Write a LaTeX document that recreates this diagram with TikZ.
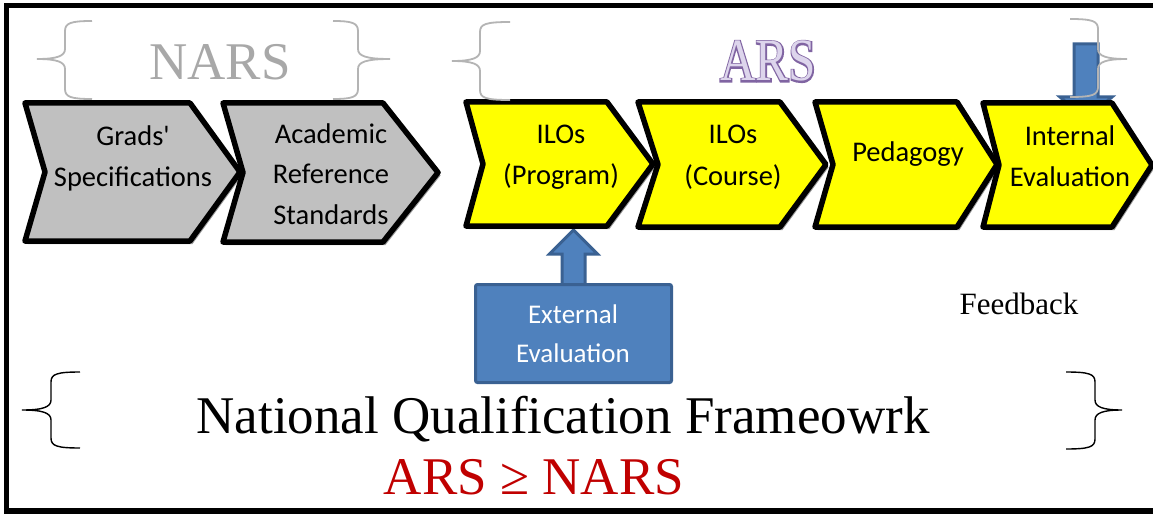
\documentclass[tikz,border=0pt]{standalone}
\usepackage{fontspec}
\usepackage{graphicx}
\setmainfont{Liberation Serif}
\newfontfamily\calfont{Carlito}
\newfontfamily\arsbold[FakeBold=5]{Liberation Serif}
\usetikzlibrary{calc}
\definecolor{chevgray}{HTML}{C0C0C0}
\definecolor{chevyel}{HTML}{FFFF00}
\definecolor{blueA}{HTML}{4F81BD}
\definecolor{blueB}{HTML}{3A6192}
\definecolor{braceg}{HTML}{B4B4B4}
\definecolor{narsg}{HTML}{A8A8A8}
\definecolor{arsline}{HTML}{8064A2}
\definecolor{arsfill}{HTML}{DDD5EC}
\definecolor{redtxt}{HTML}{C00000}
\pgfdeclarelayer{bg}
\pgfdeclarelayer{back}
\pgfdeclarelayer{chev}
\pgfsetlayers{bg,back,chev,main}
% chevron outline: node, tip depth, notch depth, dx, dy
\newcommand\chevp[5]{($(#1.north west)+(#4,#5)$) -- ($(#1.north east)+(-#2+#4,#5)$) -- ($(#1.east)+(#4,#5)$) -- ($(#1.south east)+(-#2+#4,#5)$) -- ($(#1.south west)+(#4,#5)$) -- ($(#1.west)+(#3+#4,#5)$) -- cycle}
% left brace: xtick xvert xarm ytop ymid ybot
\newcommand\bracel[6]{(#3,#4) .. controls (#2+6,#4) and (#2,#4+2) .. (#2,#4+10) -- (#2,#5-10) .. controls (#2,#5-3) and (#2-8,#5) .. (#1,#5) .. controls (#2-8,#5) and (#2,#5+3) .. (#2,#5+10) -- (#2,#6-10) .. controls (#2,#6-2) and (#2+6,#6) .. (#3,#6)}
% right brace: xarm xvert xtick ytop ymid ybot
\newcommand\bracer[6]{(#1,#4) .. controls (#2-6,#4) and (#2,#4+2) .. (#2,#4+10) -- (#2,#5-10) .. controls (#2,#5-3) and (#2+8,#5) .. (#3,#5) .. controls (#2+8,#5) and (#2,#5+3) .. (#2,#5+10) -- (#2,#6-10) .. controls (#2,#6-2) and (#2-6,#6) .. (#1,#6)}
\tikzset{
  chevbox/.style={inner sep=0pt, outer sep=0pt, draw=none},
  chevline/.style={draw=black, line width=5.5pt, line join=round},
  chevshadow/.style={fill=black, opacity=.4},
  sanstxt/.style={font=\calfont\fontsize{28.5}{34}\selectfont, anchor=base, inner sep=0pt},
  exttxt/.style={font=\calfont\fontsize{27}{32}\selectfont, anchor=base, inner sep=0pt, text=white},
  bracegray/.style={draw=braceg, line width=1.8pt},
  braceblk/.style={draw=black, line width=1.4pt},
  bluearrow/.style={fill=blueA, draw=blueB, line width=3pt, line join=miter},
  sertxt/.style={anchor=base, inner sep=0pt},
}
\begin{document}
\begin{tikzpicture}[x=1pt, y=-1pt]
\useasboundingbox (0,0) rectangle (1153,516);
\begin{pgfonlayer}{bg}
  \fill[white] (0,0) rectangle (1153,516);
\end{pgfonlayer}
% frame
\draw[line width=5.5pt] (1160,5.5) -- (6.5,5.5) -- (6.5,511) -- (1160,511);

% chevron placeholders
\node[chevbox, minimum width=215pt, minimum height=138pt] (c1) at (132.5,172) {};
\node[chevbox, minimum width=215pt, minimum height=139pt] (c2) at (330.5,172.5) {};
\node[chevbox, minimum width=187pt, minimum height=124pt] (c3) at (559.5,164) {};
\node[chevbox, minimum width=188pt, minimum height=125pt] (c4) at (732,164.5) {};
\node[chevbox, minimum width=182pt, minimum height=125pt] (c5) at (906,164.5) {};
\node[chevbox, minimum width=169pt, minimum height=124pt] (c6) at (1067.5,165) {};

\begin{pgfonlayer}{chev}
  \fill[chevshadow] \chevp{c1}{50}{20}{2.5}{3};
  \fill[chevshadow] \chevp{c2}{55}{20}{2.5}{3};
  \fill[chevshadow] \chevp{c3}{46}{17}{2.5}{3};
  \fill[chevshadow] \chevp{c4}{46}{20}{2.5}{3};
  \fill[chevshadow] \chevp{c5}{40}{18}{2.5}{3};
  \fill[chevshadow] \chevp{c6}{40}{16}{2.5}{3};
  \filldraw[chevline, fill=chevgray] \chevp{c1}{50}{20}{0}{0};
  \filldraw[chevline, fill=chevgray] \chevp{c2}{55}{20}{0}{0};
  \filldraw[chevline, fill=chevyel] \chevp{c3}{46}{17}{0}{0};
  \filldraw[chevline, fill=chevyel] \chevp{c4}{46}{20}{0}{0};
  \filldraw[chevline, fill=chevyel] \chevp{c5}{40}{18}{0}{0};
  \filldraw[chevline, fill=chevyel] \chevp{c6}{40}{16}{0}{0};
\end{pgfonlayer}

% chevron texts
\node[sanstxt] (g1) at (133,145) {Grads'};
\node[sanstxt] (g2) at (133,186) {Specifications};
\node[sanstxt] (a1) at (331,143) {Academic};
\node[sanstxt] (a2) at (331,183.5) {Reference};
\node[sanstxt] (a3) at (331,224) {Standards};
\node[sanstxt] (p1) at (561,143) {ILOs};
\node[sanstxt] (p2) at (561,184) {(Program)};
\node[sanstxt] (k1) at (733,143) {ILOs};
\node[sanstxt] (k2) at (733,185) {(Course)};
\node[sanstxt] (pe) at (908,161) {Pedagogy};
\node[sanstxt] (i1) at (1070,145) {Internal};
\node[sanstxt] (i2) at (1070,186) {Evaluation};

% external evaluation box
\node[draw=blueB, fill=blueA, line width=3pt, rounded corners=2pt, inner sep=0pt,
      minimum width=196pt, minimum height=98pt] (ext) at (573.5,333.5) {};
\node[exttxt] (e1) at (573,323) {External};
\node[exttxt] (e2) at (573,362) {Evaluation};

% arrows
\coordinate (ub) at (ext.north);
\coordinate (ut) at ($(ub |- c3.south)+(0,4)$);
\coordinate (dt) at (1086,44);
\coordinate (dh) at (dt |- c6.north);
\begin{pgfonlayer}{back}
  % up arrow: External Evaluation -> ILOs (Program)
  \filldraw[bluearrow] ($(ub)+(-11.5,2)$) -- ($(ut)+(-11.5,24)$) -- ($(ut)+(-24,24)$) -- (ut)
     -- ($(ut)+(24,24)$) -- ($(ut)+(11.5,24)$) -- ($(ub)+(11.5,2)$) -- cycle;
  % down arrow into Internal Evaluation
  \filldraw[bluearrow] ($(dt)+(-12,0)$) -- ($(dt)+(12,0)$) -- ($(dh)+(12,-6)$) -- ($(dh)+(26,-6)$)
     -- ($(dh)+(0,16)$) -- ($(dh)+(-26,-6)$) -- ($(dh)+(-12,-6)$) -- cycle;
\end{pgfonlayer}

% braces
\draw[bracegray] \bracel{37}{65}{92}{21}{59}{99};
\draw[bracegray] \bracer{333}{358}{390}{21}{59}{99};
\draw[bracegray] \bracel{452}{480}{510}{22}{61}{100};
\draw[bracegray] \bracer{1070}{1098}{1127}{19}{59}{97};
\draw[braceblk] \bracel{22}{51}{80}{372}{410}{448};
\draw[braceblk] \bracer{1066}{1095}{1122}{372}{410}{449};

% NARS title
\node[sertxt, font=\fontsize{53}{58}\selectfont, text=narsg] (nars) at (220,80) {NARS};

% ARS title (outlined)
\coordinate (arsc) at (768,81);
\node[sertxt, font=\arsbold\fontsize{60}{64}\selectfont, text=arsline] (arso) at (arsc) {\scalebox{.82}[1]{ARS}};
\node[sertxt, font=\fontsize{60}{64}\selectfont, text=arsfill] (ars) at (arsc) {\scalebox{.82}[1]{ARS}};

% Feedback
\node[sertxt, font=\fontsize{31}{36}\selectfont] (fb) at (1019,314) {Feedback};

% National Qualification Framework
\node[sertxt, font=\fontsize{53}{58}\selectfont] (nqf) at (563,433) {National Qualification Frameowrk};

% ARS >= NARS
\node[sertxt, font=\fontsize{53}{58}\selectfont, text=redtxt] (ineq) at (534,494) {ARS ≥ NARS};
\end{tikzpicture}
\end{document}
